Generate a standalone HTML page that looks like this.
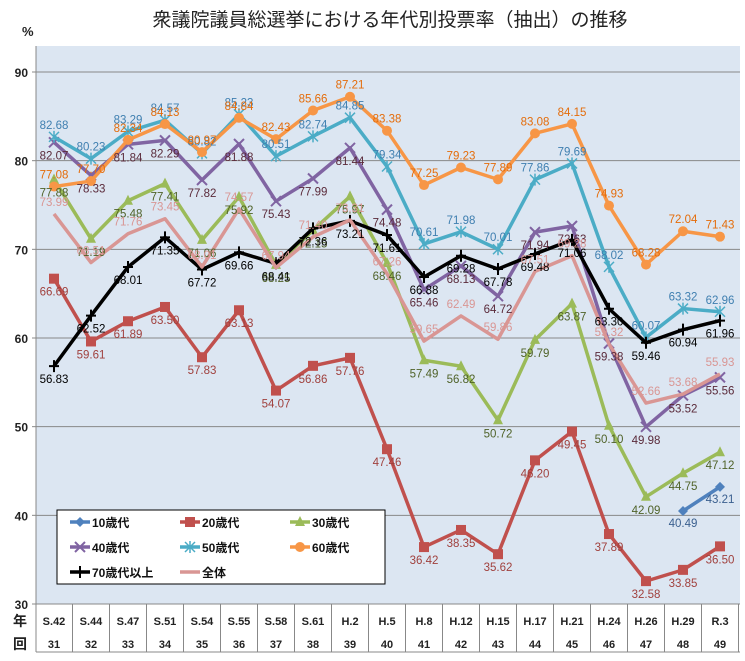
<!DOCTYPE html>
<html><head><meta charset="utf-8">
<style>
body{margin:0;background:#fff;font-family:"Liberation Sans","Noto Sans CJK JP",sans-serif;}
svg text{font-family:"Liberation Sans","Noto Sans CJK JP",sans-serif;}
</style></head>
<body>
<svg id="chart" width="745" height="656" xmlns="http://www.w3.org/2000/svg">
<rect x="0" y="0" width="745" height="656" fill="#fff"/>
<text x="390" y="26" font-size="19" text-anchor="middle" fill="#222">衆議院議員総選挙における年代別投票率（抽出）の推移</text>
<text x="22" y="36" font-size="13" font-weight="bold" fill="#222">%</text>
<rect x="36" y="46" width="704" height="558" fill="#dce6f2"/>
<g id="grid"></g><g id="axis"></g><g id="series"></g><g id="labels"></g>
<g>
<rect x="57" y="510" width="328" height="74" fill="#fff" stroke="#000" stroke-width="1"/>
<g id="legend"></g>
</g>
</svg>
<script>
const categories=["S.42","S.44","S.47","S.51","S.54","S.55","S.58","S.61","H.2","H.5","H.8","H.12","H.15","H.17","H.21","H.24","H.26","H.29","R.3"];
const rounds=["31","32","33","34","35","36","37","38","39","40","41","42","43","44","45","46","47","48","49"];
const yTicks=[30,40,50,60,70,80,90];
const s10=[null,null,null,null,null,null,null,null,null,null,null,null,null,null,null,null,null,40.49,43.21];
const s20=[66.69,59.61,61.89,63.50,57.83,63.13,54.07,56.86,57.76,47.46,36.42,38.35,35.62,46.20,49.45,37.89,32.58,33.85,36.50];
const s30=[77.88,71.19,75.48,77.41,71.06,75.92,68.25,72.15,75.97,68.46,57.49,56.82,50.72,59.79,63.87,50.10,42.09,44.75,47.12];
const s40=[82.07,78.33,81.84,82.29,77.82,81.88,75.43,77.99,81.44,74.48,65.46,68.13,64.72,71.94,72.63,59.38,49.98,53.52,55.56];
const s50=[82.68,80.23,83.29,84.57,80.82,85.23,80.51,82.74,84.85,79.34,70.61,71.98,70.01,77.86,79.69,68.02,60.07,63.32,62.96];
const s60=[77.08,77.70,82.34,84.13,80.97,84.84,82.43,85.66,87.21,83.38,77.25,79.23,77.89,83.08,84.15,74.93,68.28,72.04,71.43];
const s70=[56.83,62.52,68.01,71.35,67.72,69.66,68.41,72.36,73.21,71.61,66.88,69.28,67.78,69.48,71.06,63.30,59.46,60.94,61.96];
const sAll=[73.99,68.51,71.76,73.45,68.01,74.57,67.94,71.40,73.31,67.26,59.65,62.49,59.86,67.51,69.28,59.32,52.66,53.68,55.93];
const seriesNames=["10歳代","20歳代","30歳代","40歳代","50歳代","60歳代","70歳代以上","全体"];

const NS="http://www.w3.org/2000/svg";
const X=i=>54+i*37;
const Y=v=>604-(v-30)*(532/60);
function mk(tag,attrs,parent){const e=document.createElementNS(NS,tag);for(const k in attrs)e.setAttribute(k,attrs[k]);parent.appendChild(e);return e;}
const grid=document.getElementById('grid'),axis=document.getElementById('axis'),ser=document.getElementById('series'),lab=document.getElementById('labels'),leg=document.getElementById('legend');
yTicks.forEach(t=>{
  if(t>30){const l=mk('line',{x1:36,x2:740,y1:Y(t),y2:Y(t),stroke:'#888','stroke-width':1},grid);
  
  }
  const tx=mk('text',{x:28,y:Y(t)+5,'font-size':12,'font-weight':'bold','text-anchor':'end',fill:'#222'},axis);tx.textContent=t;
  
  
  mk('line',{x1:32,x2:36,y1:Y(t),y2:Y(t),stroke:'#888'},axis);
});
mk('line',{x1:36,x2:36,y1:46,y2:652,stroke:'#888'},axis);
mk('line',{x1:36,x2:740,y1:604,y2:604,stroke:'#888'},axis);
mk('line',{x1:36,x2:740,y1:652,y2:652,stroke:'#888'},axis);
categories.forEach((c,i)=>{
  mk('line',{x1:X(i)+18.5,x2:X(i)+18.5,y1:604,y2:652,stroke:'#888'},axis);
  const t=mk('text',{x:X(i),y:625,'font-size':11,'font-weight':'bold','text-anchor':'middle',fill:'#222'},axis);t.textContent=c;
  
  
  const r=mk('text',{x:X(i),y:648,'font-size':11,'font-weight':'bold','text-anchor':'middle',fill:'#222'},axis);r.textContent=rounds[i];
  
  
});
const a1=mk('text',{x:20,y:626,'font-size':14,'font-weight':'bold','text-anchor':'middle',fill:'#222'},axis);a1.textContent='年';


const a2=mk('text',{x:20,y:649,'font-size':14,'font-weight':'bold','text-anchor':'middle',fill:'#222'},axis);a2.textContent='回';



const data=[s10,s20,s30,s40,s50,s60,s70,sAll];
const colors=["#4f81bd","#c0504d","#9bbb59","#8064a2","#4bacc6","#f79646","#000000","#d99694"];
const labColors=["#3a5f8f","#a0403d","#4f6228","#5a2a3a","#3f7fb0","#e46c0a","#000000","#d99694"];
const markers=["diamond","square","triangle","x","star","circle","plus","none"];
const offs=[[0,16],[0,17],[0,17],[0,17],[0,-8],[0,-8],[0,17],[0,-8]];
const keys=["10s","20s","30s","40s","50s","60s","70plus","overall"];
function marker(type,x,y,c,g){
  if(type==='diamond')mk('path',{d:`M${x} ${y-5}L${x+5} ${y}L${x} ${y+5}L${x-5} ${y}Z`,fill:c},g);
  else if(type==='square')mk('rect',{x:x-5,y:y-5,width:10,height:10,fill:c},g);
  else if(type==='triangle')mk('path',{d:`M${x} ${y-6}L${x+5} ${y+4}L${x-5} ${y+4}Z`,fill:c},g);
  else if(type==='x')mk('path',{d:`M${x-5} ${y-5}L${x+5} ${y+5}M${x+5} ${y-5}L${x-5} ${y+5}`,stroke:c,'stroke-width':2},g);
  else if(type==='star')mk('path',{d:`M${x-5} ${y-5}L${x+5} ${y+5}M${x+5} ${y-5}L${x-5} ${y+5}M${x} ${y-6}L${x} ${y+6}`,stroke:c,'stroke-width':1.5},g);
  else if(type==='circle')mk('circle',{cx:x,cy:y,r:5,fill:c},g);
  else if(type==='plus')mk('path',{d:`M${x-5} ${y}L${x+5} ${y}M${x} ${y-6}L${x} ${y+6}`,stroke:c,'stroke-width':2},g);
}
data.forEach((arr,s)=>{
  const g=mk('g',{},ser);
  
  
  let d='';
  arr.forEach((v,i)=>{if(v==null)return;d+=(d?'L':'M')+X(i)+' '+Y(v);});
  const p=mk('path',{d:d,fill:'none',stroke:colors[s],'stroke-width':3.5,'stroke-linejoin':'round'},g);
  
  
  arr.forEach((v,i)=>{if(v==null)return;marker(markers[s],X(i),Y(v),colors[s],g);
    const t=mk('text',{x:X(i)+offs[s][0],y:Y(v)+offs[s][1],'font-size':11.5,'text-anchor':'middle',fill:labColors[s]},lab);
    t.textContent=v.toFixed(2);
    
    
  });
});
const lpos=[[70,522],[180,522],[290,522],[70,547],[180,547],[290,547],[70,572],[180,572]];
seriesNames.forEach((n,s)=>{
  const [x,y]=lpos[s];
  const g=mk('g',{},leg);
  
  
  mk('line',{x1:x,x2:x+20,y1:y,y2:y,stroke:colors[s],'stroke-width':3.5},g);
  marker(markers[s],x+10,y,colors[s],g);
  const t=mk('text',{x:x+22,y:y+5,'font-size':12,'font-weight':'bold',fill:'#111'},g);t.textContent=n;
});
</script>
</body></html>
